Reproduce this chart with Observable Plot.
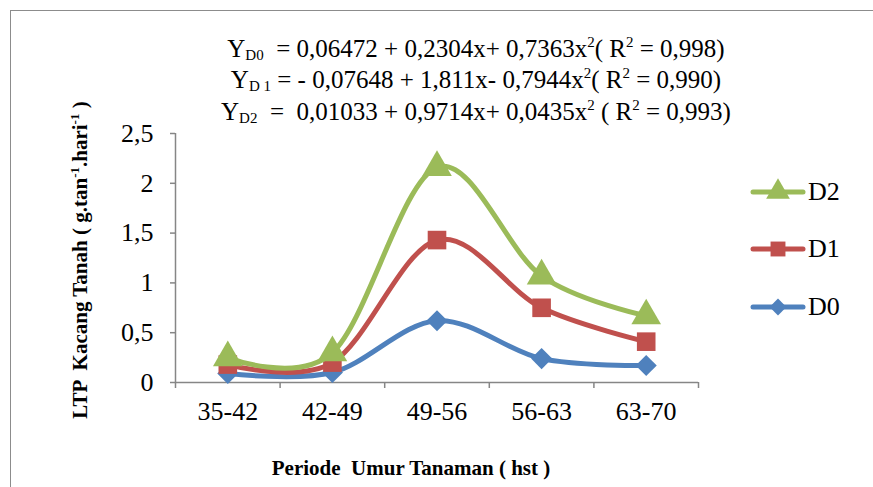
<!DOCTYPE html>
<html>
<head>
<meta charset="utf-8">
<script src="https://cdn.jsdelivr.net/npm/d3@7"></script>
<script src="https://cdn.jsdelivr.net/npm/@observablehq/plot@0.6"></script>
<style>
  html, body { margin: 0; padding: 0; background: #fff; }
  #wrap { position: relative; width: 873px; height: 487px; overflow: hidden; font-family: "Liberation Serif", "Times New Roman", serif; color: #000; }
  #frame { position: absolute; left: 10px; top: 10px; width: 900px; height: 500px; border-top: 1.5px solid #8c8c8c; border-left: 1.5px solid #8c8c8c; box-sizing: border-box; }
  #chart { position: absolute; left: 0; top: 0; }
  .eq { position: absolute; left: 0; width: 952px; text-align: center; font-size: 25px; line-height: 31px; white-space: pre; }
  .eq sub { font-size: 15px; vertical-align: -3px; }
  .eq sup { font-size: 15px; vertical-align: 10px; line-height: 0; }
  #ylab { position: absolute; left: 80px; top: 260px; transform: translate(-50%, -50%) rotate(-90deg); font-weight: bold; font-size: 21px; white-space: pre; }
  #ylab sup { font-size: 13px; vertical-align: 8px; line-height: 0; }
  #xlab { position: absolute; left: 411px; top: 468px; transform: translate(-50%, -50%); font-weight: bold; font-size: 21px; white-space: pre; }
  #legend { position: absolute; left: 745px; top: 0; }
  .leg { position: absolute; left: 0; width: 120px; height: 30px; }
  .leg span { position: absolute; left: 63px; top: 50%; transform: translateY(-50%); font-size: 26px; }
</style>
</head>
<body>
<div id="wrap">
  <div id="frame"></div>
  <div id="chart"></div>
  <div class="eq" style="top:33px">Y<sub>D0</sub>  = 0,06472 + 0,2304x+ 0,7363x<sup>2</sup>( R<sup>2</sup> = 0,998)</div>
  <div class="eq" style="top:64px">Y<sub>D 1</sub> = - 0,07648 + 1,811x- 0,7944x<sup>2</sup>( R<sup>2</sup> = 0,990)</div>
  <div class="eq" style="top:96px">Y<sub>D2</sub>  =  0,01033 + 0,9714x+ 0,0435x<sup>2</sup> ( R<sup>2</sup> = 0,993)</div>
  <div id="ylab">LTP  Kacang Tanah ( g.tan<sup>-1</sup>.hari<sup>-1</sup> )</div>
  <div id="xlab">Periode  Umur Tanaman ( hst )</div>
  <div id="legend"></div>
</div>
<script>
const categories = ["35-42", "42-49", "49-56", "56-63", "63-70"];
const seriesNames = ["D0", "D1", "D2"];
const D0 = [0.09, 0.10, 0.62, 0.24, 0.17];
const D1 = [0.18, 0.20, 1.43, 0.75, 0.41];
const D2 = [0.25, 0.30, 2.16, 1.07, 0.67];
const yTicks = [0, 0.5, 1, 1.5, 2, 2.5];
const colors = {D0: "#4F81BD", D1: "#C0504D", D2: "#9BBB59"};
const symbols = {D0: "diamond2", D1: "square", D2: "triangle"};
const sizes = {D0: 9.5, D1: 10.5, D2: 11};

const values = {D0, D1, D2};
const data = [];
for (const s of seriesNames) values[s].forEach((v, i) => data.push({series: s, idx: i + 1, cat: categories[i], value: v}));

const axisGray = "#868686";
const fmt = d => String(d).replace(".", ",");

const marks = [
  Plot.ruleY([0], {stroke: axisGray, strokeWidth: 1.5}),
  Plot.ruleX([0.5], {stroke: axisGray, strokeWidth: 1.5}),
  Plot.axisY({ticks: yTicks, tickSize: 5, tickPadding: 17, tickFormat: fmt, stroke: axisGray, strokeWidth: 1.5, fontSize: 26, fill: "#000", label: null}),
  Plot.axisX({ticks: d3.range(0.5, 6, 1), tickSize: 6, tickFormat: () => "", stroke: axisGray, strokeWidth: 1.5, label: null}),
  Plot.axisX({ticks: d3.range(1, 6), tickSize: 0, tickPadding: 19, tickFormat: i => categories[i - 1], fontSize: 26, fill: "#000", label: null})
];
for (const s of ["D0", "D1", "D2"]) {
  const d = data.filter(r => r.series === s);
  marks.push(Plot.line(d, {x: "idx", y: "value", stroke: colors[s], strokeWidth: 5, curve: "cardinal", tension: 0, strokeLinecap: "round", strokeLinejoin: "round"}));
  marks.push(Plot.dot(d, {x: "idx", y: "value", symbol: () => symbols[s], r: sizes[s], fill: colors[s], stroke: "none"}));
}

const chart = Plot.plot({
  width: 873, height: 487,
  marginLeft: 175, marginRight: 175, marginTop: 133, marginBottom: 105,
  x: {type: "linear", domain: [0.5, 5.5]},
  y: {domain: [0, 2.5]},
  symbol: {type: "identity"},
  style: {fontFamily: "'Liberation Serif', 'Times New Roman', serif", background: "transparent", overflow: "visible"},
  marks
});
document.getElementById("chart").appendChild(chart);

// legend
const leg = document.getElementById("legend");
const legRows = [["D2", 192], ["D1", 249], ["D0", 307]];
for (const [s, cy] of legRows) {
  const div = document.createElement("div");
  div.className = "leg";
  div.style.top = (cy - 15) + "px";
  const svg = d3.create("svg").attr("width", 62).attr("height", 30).style("position", "absolute").style("left", "0").style("top", "0");
  svg.append("line").attr("x1", 8).attr("x2", 58).attr("y1", 15).attr("y2", 15).attr("stroke", colors[s]).attr("stroke-width", 5).attr("stroke-linecap", "round");
  const symMap = {diamond2: d3.symbolDiamond2, square: d3.symbolSquare, triangle: d3.symbolTriangle};
  const r = sizes[s] * 0.8;
  svg.append("path").attr("transform", "translate(33,15)").attr("d", d3.symbol(symMap[symbols[s]], Math.PI * r * r)()).attr("fill", colors[s]);
  div.appendChild(svg.node());
  const sp = document.createElement("span");
  sp.textContent = s;
  div.appendChild(sp);
  leg.appendChild(div);
}
</script>
</body>
</html>
